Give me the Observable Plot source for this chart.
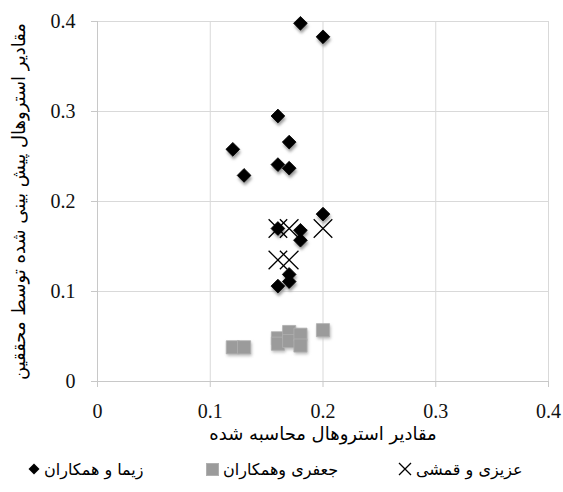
<!DOCTYPE html>
<html>
<head>
<meta charset="utf-8">
<script src="https://cdn.jsdelivr.net/npm/d3@7"></script>
<script src="https://cdn.jsdelivr.net/npm/@observablehq/plot@0.6"></script>
<style>
  html, body { margin: 0; padding: 0; background: #fff; }
  #wrap { position: relative; width: 563px; height: 492px; }
  #legend { position: absolute; left: 0; top: 452px; width: 563px; height: 34px;
            font-family: "DejaVu Sans", sans-serif; font-size: 16px; color: #000; }
  .item { position: absolute; top: 0; height: 34px; display: flex; align-items: center; gap: 4px; }
  .item span { direction: rtl; unicode-bidi: embed; }
</style>
</head>
<body>
<div id="wrap"></div>
<script>
// ---- data ----
const ticks = [0, 0.1, 0.2, 0.3, 0.4];
const xTitle = "مقادیر استروهال محاسبه شده";
const yTitle = "مقادیر استروهال پیش بینی شده توسط محققین";
const seriesNames = ["زیما و همکاران", "جعفری وهمکاران", "عزیزی و قمشی"];

const zimaX = [0.18, 0.2, 0.16, 0.17, 0.12, 0.13, 0.16, 0.17, 0.2, 0.16, 0.18, 0.18, 0.17, 0.17, 0.16];
const zimaY = [0.398, 0.383, 0.295, 0.266, 0.258, 0.229, 0.241, 0.237, 0.186, 0.17, 0.168, 0.157, 0.119, 0.111, 0.106];

const jafariX = [0.12, 0.13, 0.16, 0.16, 0.17, 0.17, 0.18, 0.18, 0.2];
const jafariY = [0.038, 0.038, 0.048, 0.042, 0.055, 0.045, 0.052, 0.040, 0.057];

const aziziX = [0.16, 0.17, 0.2, 0.16, 0.17];
const aziziY = [0.17, 0.17, 0.17, 0.135, 0.135];

// ---- build tables ----
const zima = zimaX.map((x, i) => ({x, y: zimaY[i]}));
const jafari = jafariX.map((x, i) => ({x, y: jafariY[i]}));
const azizi = aziziX.map((x, i) => ({x, y: aziziY[i]}));

const gridColor = "#d9d9d9";
const axisColor = "#c8c8c8";

const svg = Plot.plot({
  width: 563,
  height: 452,
  marginLeft: 97,
  marginRight: 15,
  marginTop: 21,
  marginBottom: 71,
  style: {fontFamily: "Liberation Serif", fontSize: "20px", color: "#111", background: "#fff", overflow: "visible"},
  x: {domain: [0, 0.4]},
  y: {domain: [0, 0.4]},
  marks: [
    Plot.gridX(ticks, {stroke: gridColor, strokeOpacity: 1}),
    Plot.gridY(ticks, {stroke: gridColor, strokeOpacity: 1}),
    Plot.axisX(ticks, {tickSize: 6, tickPadding: 16, stroke: axisColor, tickFormat: d => String(d), label: null, fontSize: 20}),
    Plot.axisY(ticks, {tickSize: 6, tickPadding: 16, stroke: axisColor, tickFormat: d => String(d), label: null, fontSize: 20}),
    Plot.ruleX([0], {stroke: axisColor}),
    Plot.ruleY([0], {stroke: axisColor}),
    // shadows
    Plot.dot(jafari, {x: "x", y: "y", symbol: "square", r: 7.6, fill: "#bdbdbd", dx: 1, dy: 2, ariaDescription: "shadow"}),
    Plot.dot(zima, {x: "x", y: "y", symbol: "diamond2", r: 6.4, fill: "#9a9a9a", stroke: "none", dx: 1, dy: 3, ariaDescription: "shadow"}),
    // series
    Plot.dot(jafari, {x: "x", y: "y", symbol: "square", r: 7.4, fill: "#9b9b9b", stroke: "#b0b0b0", strokeWidth: 0.8}),
    Plot.dot(zima, {x: "x", y: "y", symbol: "diamond2", r: 6.2, fill: "#000", stroke: "#000", strokeWidth: 0.8}),
    Plot.dot(azizi, {x: "x", y: "y", symbol: "times", r: 8.5, stroke: "#000", strokeWidth: 1.3}),
    // axis titles
    Plot.text([xTitle], {text: d => d, frameAnchor: "bottom", textAnchor: "middle", dy: 58, fontFamily: "DejaVu Sans", fontSize: 18, fill: "#000"}),
    Plot.text([yTitle], {text: d => d, frameAnchor: "left", textAnchor: "middle", dx: -78, rotate: -90, fontFamily: "DejaVu Sans", fontSize: 18, fill: "#000"})
  ]
});

// soft blur for the marker shadows
const defs = document.createElementNS("http://www.w3.org/2000/svg", "defs");
defs.innerHTML = '<filter id="soft" x="-50%" y="-50%" width="200%" height="200%"><feGaussianBlur stdDeviation="1.6"/></filter>';
svg.insertBefore(defs, svg.firstChild);
svg.querySelectorAll('[aria-description="shadow"]').forEach(g => g.setAttribute("filter", "url(#soft)"));

const wrap = document.getElementById("wrap");
wrap.appendChild(svg);

// ---- legend ----
const legend = document.createElement("div");
legend.id = "legend";
const markers = [
  '<svg width="12" height="12"><path d="M6,0.5L11.5,6L6,11.5L0.5,6Z" fill="#000"/></svg>',
  '<svg width="13" height="13"><rect x="0.5" y="0.5" width="12" height="12" fill="#9b9b9b" stroke="#b0b0b0"/></svg>',
  '<svg width="14" height="14"><path d="M1,1L13,13M13,1L1,13" stroke="#000" stroke-width="1.3"/></svg>'
];
const lefts = [28, 206, 398];
seriesNames.forEach((name, i) => {
  const it = document.createElement("div");
  it.className = "item";
  it.style.left = lefts[i] + "px";
  it.innerHTML = markers[i] + '<span>' + name + '</span>';
  legend.appendChild(it);
});
wrap.appendChild(legend);
</script>
</body>
</html>
